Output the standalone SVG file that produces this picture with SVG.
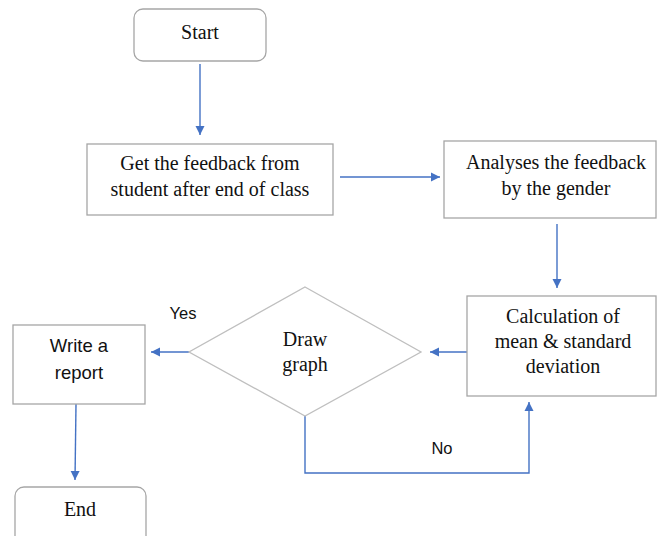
<svg xmlns="http://www.w3.org/2000/svg" width="657" height="536" viewBox="0 0 657 536">
<defs>
<marker id="ah" markerWidth="10" markerHeight="10" refX="9" refY="5" orient="auto" markerUnits="userSpaceOnUse">
<path d="M0,0.5 L9,5 L0,9.5 Z" fill="#4472C4"/>
</marker>
<style>
.box{fill:#fff;stroke:#a6a6a6;stroke-width:1.3}
.dia{fill:#fff;stroke:#bfbfbf;stroke-width:1.3}
.t{font-family:"Liberation Serif","Times New Roman",serif;font-size:20px;fill:#111;text-anchor:middle}
.s{font-family:"Liberation Sans",Arial,sans-serif;font-size:16.5px;fill:#111;text-anchor:middle}
.w{font-family:"Liberation Sans",Arial,sans-serif;font-size:18.5px;fill:#111;text-anchor:middle}
.c{fill:none;stroke:#4472C4;stroke-width:1.4}
</style>
</defs>
<rect width="657" height="536" fill="#fff"/>
<g id="connectors">
<line class="c" x1="200" y1="64" x2="200" y2="135" marker-end="url(#ah)"/>
<line class="c" x1="340" y1="177" x2="440" y2="177" marker-end="url(#ah)"/>
<line class="c" x1="557" y1="224" x2="557" y2="288" marker-end="url(#ah)"/>
<line class="c" x1="467" y1="352" x2="430" y2="352" marker-end="url(#ah)"/>
<line class="c" x1="189" y1="352" x2="151" y2="352" marker-end="url(#ah)"/>
<line class="c" x1="76" y1="404" x2="75" y2="480" marker-end="url(#ah)"/>
<polyline class="c" points="305,416 305,473 529,473 529,402" marker-end="url(#ah)"/>
<text class="s" x="183" y="319">Yes</text>
<text class="s" x="442" y="454">No</text>
</g>
<g id="start">
<rect class="box" x="134" y="9" width="132" height="52" rx="9"/>
<text class="t" x="200" y="39">Start</text>
</g>
<g id="get">
<rect class="box" x="87" y="144" width="246" height="71"/>
<text class="t" x="210" y="170">Get the feedback from</text>
<text class="t" x="210" y="196">student after end of class</text>
</g>
<g id="analyses">
<rect class="box" x="444" y="141" width="212" height="77"/>
<text class="t" x="556" y="169">Analyses the feedback</text>
<text class="t" x="556" y="195">by the gender</text>
</g>
<g id="calc">
<rect class="box" x="467" y="296" width="189" height="100"/>
<text class="t" x="563" y="323">Calculation of</text>
<text class="t" x="563" y="348">mean &amp; standard</text>
<text class="t" x="563" y="373">deviation</text>
</g>
<g id="draw">
<polygon class="dia" points="305,287 421,352 305,416 189,352"/>
<text class="t" x="305" y="346">Draw</text>
<text class="t" x="305" y="371">graph</text>
</g>
<g id="write">
<rect class="box" x="13" y="325" width="132" height="79"/>
<text class="w" x="79" y="352">Write a</text>
<text class="w" x="79" y="379">report</text>
</g>
<g id="end">
<rect class="box" x="15" y="487" width="131" height="60" rx="9"/>
<text class="t" x="80" y="516">End</text>
</g>
</svg>
